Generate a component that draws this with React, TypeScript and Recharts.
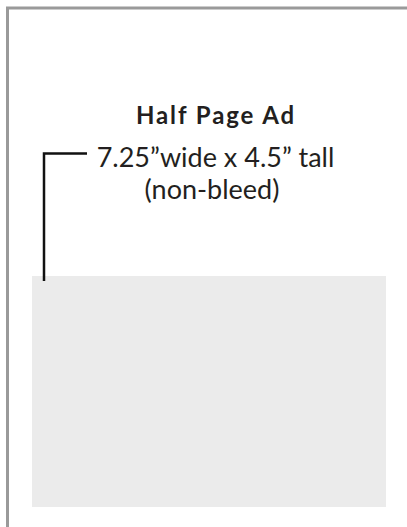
import {
  ComposedChart,
  Line,
  XAxis,
  YAxis,
  ReferenceArea,
  ReferenceDot,
  Label,
} from "recharts";

// page units, one unit = one pixel of the sheet drawing
const pageWidth = 407;
const pageHeight = 527;

// edge of the page (left and top side of the sheet)
const pageEdge = [
  { x: 7.5, y: 527 },
  { x: 7.5, y: 8 },
  { x: 407, y: 8 },
];

// bracket pointing from the caption to the ad space
const bracket = [
  { x: 44, y: 281 },
  { x: 44, y: 153.5 },
  { x: 87, y: 153.5 },
];

// the half page ad space
const adArea = { x1: 32, x2: 386, y1: 276, y2: 507 };

const labels = [
  { x: 216, y: 115, text: "Half Page Ad", size: 24, weight: 700, spacing: 1.9 },
  { x: 215.5, y: 157, text: "7.25\u201dwide x 4.5\u201d tall", size: 27, weight: 400, spacing: 0 },
  { x: 212, y: 189.8, text: "(non-bleed)", size: 27, weight: 400, spacing: 0 },
];

export default function App() {
  return (
    <div style={{ position: "absolute", left: 0, top: 0, background: "#fff" }}>
      <ComposedChart
        width={pageWidth}
        height={pageHeight}
        margin={{ top: 0, right: 0, bottom: 0, left: 0 }}
      >
        <XAxis type="number" dataKey="x" domain={[0, pageWidth]} hide />
        <YAxis type="number" dataKey="y" domain={[0, pageHeight]} reversed hide />
        <ReferenceArea
          x1={adArea.x1}
          x2={adArea.x2}
          y1={adArea.y1}
          y2={adArea.y2}
          fill="#ebebeb"
          fillOpacity={1}
          stroke="none"
        />
        <Line
          data={pageEdge}
          dataKey="y"
          type="linear"
          stroke="#9a9a9a"
          strokeWidth={3}
          dot={false}
          activeDot={false}
          isAnimationActive={false}
        />
        <Line
          data={bracket}
          dataKey="y"
          type="linear"
          stroke="#111"
          strokeWidth={2.5}
          strokeLinejoin="miter"
          strokeLinecap="butt"
          dot={false}
          activeDot={false}
          isAnimationActive={false}
        />
        {labels.map((l) => (
          <ReferenceDot key={l.text} x={l.x} y={l.y} r={0} fill="none" stroke="none">
            <Label
              value={l.text}
              position="center"
              fill="#231f20"
              fontSize={l.size}
              fontWeight={l.weight}
              letterSpacing={l.spacing}
              fontFamily="Lato, 'Open Sans', sans-serif"
            />
          </ReferenceDot>
        ))}
      </ComposedChart>
    </div>
  );
}
